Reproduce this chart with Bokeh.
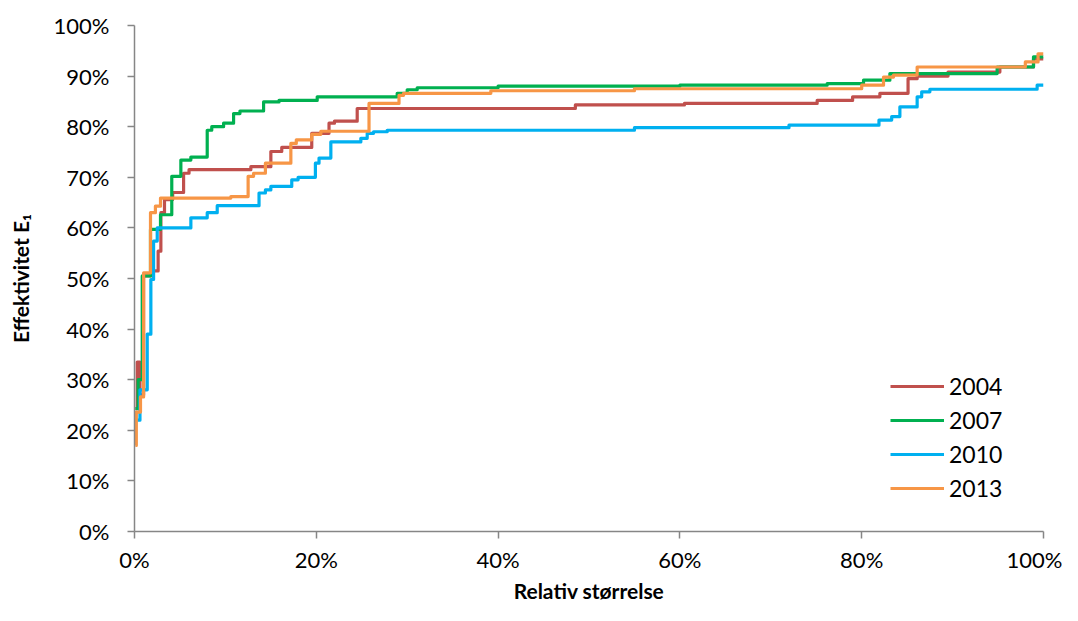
from bokeh.plotting import figure
from bokeh.models import Legend, FixedTicker, PrintfTickFormatter
from bokeh.embed import file_html
from bokeh.resources import INLINE

# step curves: relative size (%) and efficiency E1 (%)
x_2004 = [0.1, 0.3, 0.6, 1.0, 1.8, 2.6, 2.9, 3.3, 4.2, 5.4, 6.0, 12.8, 15.0, 16.2,
          19.5, 21.4, 22.0, 24.5, 48.5, 60.5, 75.1, 79.0, 82.0, 85.1, 86.1, 89.5,
          95.2, 98.9, 100]
y_2004 = [24.3, 33.5, 27.0, 50.5, 51.5, 55.4, 63.0, 65.6, 67.0, 70.8, 71.5, 72.1, 75.1, 75.9,
          78.7, 80.7, 81.1, 83.6, 84.3, 84.6, 85.2, 85.9, 86.6, 89.5, 90.0, 90.8,
          91.8, 93.4, 93.4]

x_2007 = [0.1, 0.4, 0.85, 1.76, 2.86, 4.1, 5.1, 6.2, 8.0, 8.5, 9.8, 10.9, 11.6, 14.2,
          15.9, 20.1, 28.9, 30.0, 31.1, 40.0, 60.0, 76.2, 80.2, 83.1, 94.9, 98.9, 100]
y_2007 = [24.3, 30.0, 50.5, 59.7, 62.6, 70.2, 73.4, 74.0, 79.3, 80.0, 80.7, 82.6, 83.1, 84.9,
          85.2, 85.9, 86.6, 87.3, 87.7, 88.0, 88.2, 88.5, 89.2, 90.5, 91.8, 93.8, 93.8]

x_2010 = [0.3, 0.6, 1.4, 1.8, 2.1, 2.5, 6.2, 8.0, 9.1, 13.7, 14.4, 15.0, 17.3, 18.0,
          19.9, 20.3, 21.6, 24.9, 25.6, 26.3, 27.8, 55.0, 72.0, 81.9, 83.3, 84.2,
          86.1, 86.6, 87.5, 99.3, 100]
y_2010 = [22.0, 28.0, 39.0, 49.8, 57.4, 60.0, 62.0, 63.0, 64.4, 66.9, 67.5, 68.2, 69.5, 70.0,
          72.8, 73.8, 77.0, 77.7, 78.7, 79.0, 79.3, 79.8, 80.3, 81.3, 82.0, 83.9,
          85.9, 86.9, 87.4, 88.2, 88.2]

x_2013 = [0.1, 0.2, 0.66, 1.0, 1.76, 2.3, 2.86, 10.6, 12.5, 13.1, 14.4, 17.2, 17.8,
          19.5, 20.5, 25.8, 29.1, 29.6, 39.2, 55.0, 80.0, 82.4, 83.5, 86.1, 98.0, 99.4, 100]
y_2013 = [17.0, 23.6, 26.6, 51.1, 63.0, 64.3, 65.9, 66.2, 70.2, 70.8, 72.8, 76.7, 77.4,
          78.5, 79.1, 84.6, 86.2, 86.6, 87.1, 87.5, 88.2, 89.8, 90.2, 91.8, 92.8, 94.4, 94.4]

series = [
    ("2004", x_2004, y_2004, "#C0504D"),
    ("2007", x_2007, y_2007, "#00B050"),
    ("2010", x_2010, y_2010, "#00B0F0"),
    ("2013", x_2013, y_2013, "#F79646"),
]

FONT = "Lato"
AXIS_COL = "#868686"

p = figure(width=1062, height=605, x_range=(0, 100), y_range=(0, 100),
           output_backend="svg", toolbar_location=None,
           min_border_left=134, min_border_right=19,
           min_border_top=25, min_border_bottom=72)
p.outline_line_color = None
p.xgrid.visible = False
p.ygrid.visible = False

items = []
for name, xs, ys, col in series:
    r = p.step(xs, ys, mode="after", line_width=3.2, color=col, line_join="round")
    items.append((name, [r]))

for ax in (p.xaxis[0], p.yaxis[0]):
    ax.ticker = FixedTicker(ticks=list(range(0, 101, 20 if ax is p.xaxis[0] else 10)))
    ax.formatter = PrintfTickFormatter(format="%d%%")
    ax.axis_line_color = AXIS_COL
    ax.axis_line_width = 1.5
    ax.major_tick_line_color = AXIS_COL
    ax.major_tick_line_width = 1.5
    ax.major_tick_in = 0
    ax.major_tick_out = 7
    ax.minor_tick_line_color = None
    ax.major_label_text_font = FONT
    ax.major_label_text_font_size = "22px"
    ax.major_label_text_color = "#000000"
    ax.axis_label_text_font = FONT
    ax.axis_label_text_font_size = "21px"
    ax.axis_label_text_font_style = "bold"
    ax.axis_label_text_color = "#000000"

p.xaxis.axis_label = "Relativ størrelse"
p.yaxis.axis_label = "Effektivitet E₁"
p.xaxis.major_label_standoff = 7
p.yaxis.major_label_standoff = 18
p.xaxis.axis_label_standoff = 2
p.yaxis.axis_label_standoff = 18

legend = Legend(items=items, location=(756, 28), padding=0, margin=0,
                spacing=4, glyph_width=54, glyph_height=30, label_height=30,
                label_standoff=5, border_line_color=None,
                background_fill_alpha=0,
                label_text_font=FONT, label_text_font_size="23px",
                label_text_color="#000000")
p.add_layout(legend)

open("out.html", "w").write(file_html(p, INLINE))
